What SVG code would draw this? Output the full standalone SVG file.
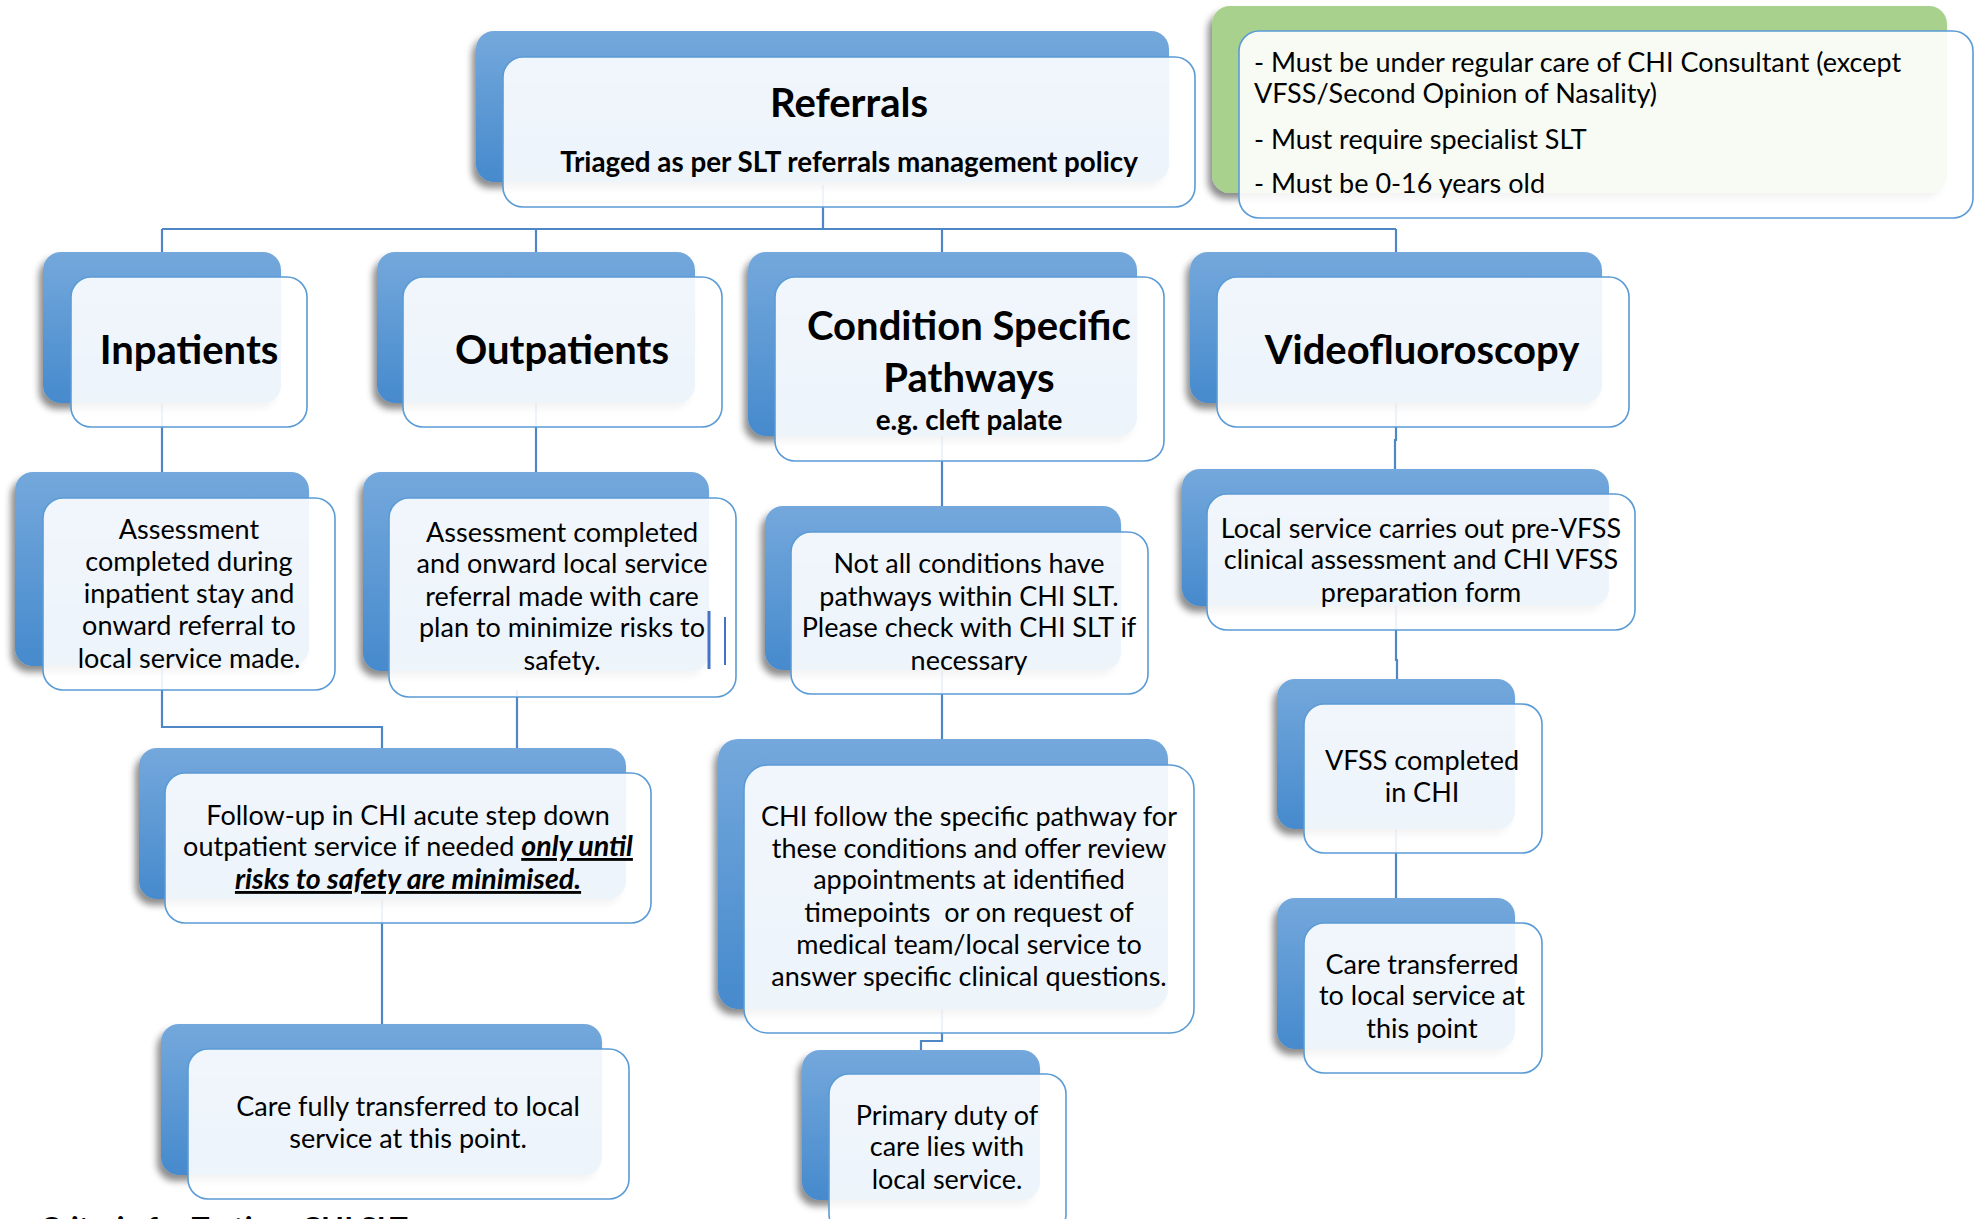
<svg xmlns="http://www.w3.org/2000/svg" width="1975" height="1219" viewBox="0 0 1975 1219">
<defs>
<linearGradient id="bg" x1="0" y1="0" x2="0" y2="1">
<stop offset="0" stop-color="#74a8dc"/>
<stop offset="1" stop-color="#468acd"/>
</linearGradient>
<filter id="sh" x="-10%" y="-10%" width="120%" height="125%">
<feDropShadow dx="-4" dy="6" stdDeviation="3.5" flood-color="#000" flood-opacity="0.45"/>
</filter>
<style>
.back{fill:url(#bg);filter:url(#sh)}
.gback{fill:#a9d18e;filter:url(#sh)}
.front{fill:#fff;fill-opacity:.9;stroke:#5b9bd5;stroke-width:1.6}
.conn{stroke:#4f86c6;stroke-width:2.2;fill:none}
text{font-family:Lato,"Liberation Sans",sans-serif;fill:#000}
.t{font-size:27px;text-anchor:middle}
.h{font-size:40px;font-weight:bold;text-anchor:middle}
.s{font-size:27.8px;font-weight:bold;text-anchor:middle}
.g{font-size:27px}
.em{font-weight:bold;font-style:italic;text-decoration:underline;font-size:28.6px}
</style>
</defs>
<rect width="1975" height="1219" fill="#fff"/>
<g id="connectors">
<path class="conn" d="M823 185V229M162 229H1396M162 229V262M536 229V262M942 229V262M1396 229V262"/>
<path class="conn" d="M162 400V482M536 400V482M942 430V512M1396 400V440H1395V478"/>
<path class="conn" d="M162 660V727H382V756M517 690V756M382 895V1030"/>
<path class="conn" d="M942 665V745M942 1000V1041H921V1055"/>
<path class="conn" d="M1396 600V660H1397V686M1396 825V905"/>
</g>
<g id="referrals">
<rect class="back" x="476" y="31" width="693" height="151" rx="18"/>
<rect class="front" x="503" y="57" width="692" height="150" rx="20"/>
<text class="h" x="849" y="117">Referrals</text>
<text class="s" x="849" y="172">Triaged as per SLT referrals management policy</text>
</g>
<g id="criteria">
<rect class="gback" x="1212" y="6" width="735" height="187" rx="18"/>
<rect class="front" x="1239" y="31" width="734" height="187" rx="20"/>
<text class="g" x="1254" y="72">- Must be under regular care of CHI Consultant (except</text>
<text class="g" x="1254" y="103">VFSS/Second Opinion of Nasality)</text>
<text class="g" x="1254" y="149">- Must require specialist SLT</text>
<text class="g" x="1254" y="193">- Must be 0-16 years old</text>
</g>
<g id="inpatients">
<rect class="back" x="43" y="252" width="238" height="151" rx="18"/>
<rect class="front" x="71" y="277" width="236" height="150" rx="20"/>
<text class="h" x="189" y="364">Inpatients</text>
</g>
<g id="outpatients">
<rect class="back" x="377" y="252" width="318" height="151" rx="18"/>
<rect class="front" x="403" y="277" width="319" height="150" rx="20"/>
<text class="h" x="562" y="364">Outpatients</text>
</g>
<g id="condition">
<rect class="back" x="748" y="252" width="389" height="184" rx="18"/>
<rect class="front" x="775" y="277" width="389" height="184" rx="20"/>
<text class="h" x="969" y="340">Condition Specific</text>
<text class="h" x="969" y="392">Pathways</text>
<text class="s" x="969" y="430">e.g. cleft palate</text>
</g>
<g id="videofluoroscopy">
<rect class="back" x="1190" y="252" width="412" height="151" rx="18"/>
<rect class="front" x="1217" y="277" width="412" height="150" rx="20"/>
<text class="h" x="1422" y="364">Videofluoroscopy</text>
</g>
<g id="inpatient-assessment">
<rect class="back" x="15" y="472" width="294" height="194" rx="18"/>
<rect class="front" x="43" y="498" width="292" height="192" rx="20"/>
<text class="t" x="189" y="539">Assessment</text>
<text class="t" x="189" y="571">completed during</text>
<text class="t" x="189" y="603">inpatient stay and</text>
<text class="t" x="189" y="635">onward referral to</text>
<text class="t" x="189" y="668">local service made.</text>
</g>
<g id="outpatient-assessment">
<rect class="back" x="363" y="472" width="346" height="199" rx="18"/>
<rect class="front" x="389" y="498" width="347" height="199" rx="20"/>
<text class="t" x="562" y="542">Assessment completed</text>
<text class="t" x="562" y="573">and onward local service</text>
<text class="t" x="562" y="606">referral made with care</text>
<text class="t" x="562" y="637">plan to minimize risks to</text>
<text class="t" x="562" y="670">safety.</text>
<path d="M709 611V669" stroke="#4472c4" stroke-width="3"/>
<path d="M725 617V665" stroke="#4472c4" stroke-width="2"/>
</g>
<g id="not-all-conditions">
<rect class="back" x="765" y="506" width="356" height="164" rx="18"/>
<rect class="front" x="791" y="532" width="357" height="162" rx="20"/>
<text class="t" x="969" y="573">Not all conditions have</text>
<text class="t" x="969" y="606">pathways within CHI SLT.</text>
<text class="t" x="969" y="637">Please check with CHI SLT if</text>
<text class="t" x="969" y="670">necessary</text>
</g>
<g id="local-service">
<rect class="back" x="1182" y="469" width="427" height="137" rx="18"/>
<rect class="front" x="1207" y="494" width="428" height="136" rx="20"/>
<text class="t" x="1421" y="538">Local service carries out pre-VFSS</text>
<text class="t" x="1421" y="569">clinical assessment and CHI VFSS</text>
<text class="t" x="1421" y="602">preparation form</text>
</g>
<g id="follow-up">
<rect class="back" x="139" y="748" width="487" height="151" rx="18"/>
<rect class="front" x="165" y="773" width="486" height="150" rx="20"/>
<text class="t" x="408" y="825">Follow-up in CHI acute step down</text>
<text class="t" x="408" y="856">outpatient service if needed <tspan class="em">only until</tspan></text>
<text class="t em" x="408" y="889">risks to safety are minimised.</text>
</g>
<g id="chi-follow">
<rect class="back" x="718" y="739" width="450" height="270" rx="20"/>
<rect class="front" x="744" y="765" width="450" height="268" rx="24"/>
<text class="t" x="969" y="826">CHI follow the specific pathway for</text>
<text class="t" x="969" y="858">these conditions and offer review</text>
<text class="t" x="969" y="889">appointments at identified</text>
<text class="t" x="969" y="922" xml:space="preserve">timepoints  or on request of</text>
<text class="t" x="969" y="954">medical team/local service to</text>
<text class="t" x="969" y="986">answer specific clinical questions.</text>
</g>
<g id="vfss-completed">
<rect class="back" x="1277" y="679" width="238" height="150" rx="18"/>
<rect class="front" x="1304" y="704" width="238" height="149" rx="20"/>
<text class="t" x="1422" y="770">VFSS completed</text>
<text class="t" x="1422" y="802">in CHI</text>
</g>
<g id="care-fully-transferred">
<rect class="back" x="161" y="1024" width="441" height="151" rx="18"/>
<rect class="front" x="188" y="1049" width="441" height="150" rx="20"/>
<text class="t" x="408" y="1116">Care fully transferred to local</text>
<text class="t" x="408" y="1148">service at this point.</text>
</g>
<g id="primary-duty">
<rect class="back" x="802" y="1050" width="238" height="150" rx="18"/>
<rect class="front" x="829" y="1074" width="237" height="160" rx="20"/>
<text class="t" x="947" y="1125">Primary duty of</text>
<text class="t" x="947" y="1156">care lies with</text>
<text class="t" x="947" y="1189">local service.</text>
</g>
<g id="care-transferred">
<rect class="back" x="1277" y="898" width="238" height="151" rx="18"/>
<rect class="front" x="1304" y="923" width="238" height="150" rx="20"/>
<text class="t" x="1422" y="974">Care transferred</text>
<text class="t" x="1422" y="1005">to local service at</text>
<text class="t" x="1422" y="1038">this point</text>
</g>
<text x="40" y="1238.5" font-size="30" font-weight="bold">Criteria for Tertiary CHI SLT</text>
</svg>
